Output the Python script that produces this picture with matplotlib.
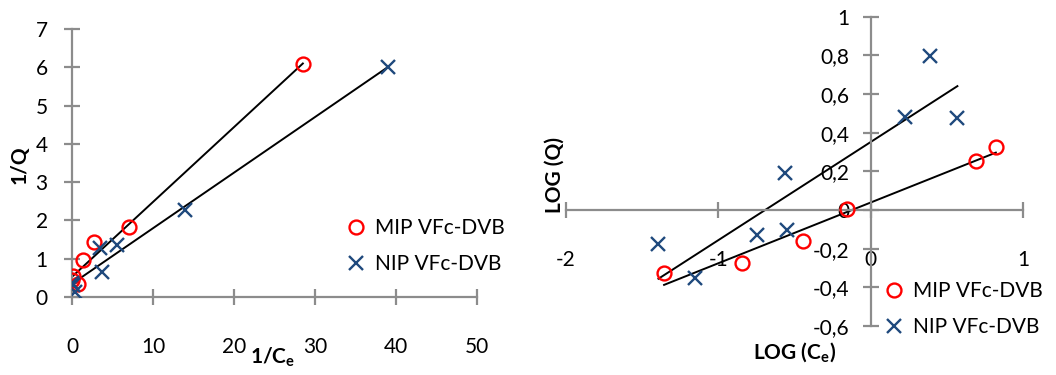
import numpy as np
import matplotlib
matplotlib.use("Agg")
import matplotlib.pyplot as plt
from matplotlib.lines import Line2D

# ---------------- data ----------------
# Left panel: Langmuir-type plot (1/Ce vs 1/Q)
mip_inv_ce = [28.5, 7.0, 2.75, 1.4, 0.17, 0.8, 0.05]
mip_inv_q = [6.08, 1.84, 1.43, 0.96, 0.55, 0.33, 0.45]
nip_inv_ce = [39.0, 14.0, 5.5, 3.46, 3.66, 0.17, 0.37, 0.05]
nip_inv_q = [6.0, 2.27, 1.36, 1.27, 0.66, 0.31, 0.14, 0.36]

# Right panel: Freundlich-type plot (log Ce vs log Q)
mip_log_ce = [-1.355, -0.846, -0.442, -0.153, 0.689, 0.820]
mip_log_q = [-0.324, -0.272, -0.159, 0.003, 0.253, 0.328]
nip_log_ce = [-1.392, -1.152, -0.748, -0.546, -0.562, 0.225, 0.389, 0.568]
nip_log_q = [-0.178, -0.353, -0.129, -0.103, 0.190, 0.479, 0.797, 0.478]

series_names = ["MIP VFc-DVB", "NIP VFc-DVB"]
left_xticks = [0, 10, 20, 30, 40, 50]
left_yticks = [0, 1, 2, 3, 4, 5, 6, 7]
right_xticks = [-2, -1, 0, 1]
right_yticks = [-0.6, -0.4, -0.2, 0, 0.2, 0.4, 0.6, 0.8, 1]
right_yticklabels = ["-0,6", "-0,4", "-0,2", "0", "0,2", "0,4", "0,6", "0,8", "1"]

# ---------------- style ----------------
FONT = "Lato"
plt.rcParams["font.family"] = [FONT, "DejaVu Sans"]
plt.rcParams["mathtext.fontset"] = "custom"
plt.rcParams["mathtext.rm"] = f"{FONT}:bold"
plt.rcParams["mathtext.it"] = f"{FONT}:bold"
plt.rcParams["mathtext.bf"] = f"{FONT}:bold"
plt.rcParams["axes.unicode_minus"] = False

RED = "#FF0000"
BLUE = "#1F497D"
GRAY = "#8C8C8C"
FS = 15

fig = plt.figure(figsize=(10.56, 3.75), dpi=100)
W, H = 1056.0, 375.0


def axes_px(x0, x1, ytop, ybot):
    return fig.add_axes([x0 / W, (H - ybot) / H, (x1 - x0) / W, (ybot - ytop) / H])


def style_axes(ax):
    for s in ["top", "right"]:
        ax.spines[s].set_visible(False)
    for s in ["left", "bottom"]:
        ax.spines[s].set_color(GRAY)
        ax.spines[s].set_linewidth(1.6)
        ax.spines[s].set_position(("data", 0))
    ax.patch.set_visible(False)
    ax.tick_params(direction="inout", length=11, width=1.6, color=GRAY,
                   labelsize=FS, labelcolor="black")


def fit_line(ax, x, y):
    x = np.asarray(x)
    y = np.asarray(y)
    k, b = np.polyfit(x, y, 1)
    xs = np.array([x.min(), x.max()])
    ax.plot(xs, k * xs + b, color="black", lw=1.4, zorder=2)


mk_o = dict(marker="o", ms=10, mfc="none", mec=RED, mew=1.7, ls="none", zorder=3)
mk_x = dict(marker="x", ms=10, mec=BLUE, mew=1.7, ls="none", zorder=3)

# ---------------- left panel ----------------
axL = axes_px(72, 477, 29, 297)
style_axes(axL)
axL.set_xlim(0, 50)
axL.set_ylim(0, 7)
fit_line(axL, mip_inv_ce, mip_inv_q)
fit_line(axL, nip_inv_ce, nip_inv_q)
axL.plot(mip_inv_ce, mip_inv_q, **mk_o)
axL.plot(nip_inv_ce, nip_inv_q, **mk_x)
axL.set_xticks(left_xticks)
axL.set_yticks(left_yticks)
axL.tick_params(axis="x", pad=23)
axL.tick_params(axis="y", pad=12)
fig.text(20 / W, 1 - 165 / H, "1/Q", rotation=90, fontsize=FS, fontweight="bold",
         ha="center", va="center")
fig.text(273 / W, 1 - 357 / H, r"1/C$_\mathrm{e}$", fontsize=FS, fontweight="bold",
         ha="center", va="center")

legL = [Line2D([], [], **mk_o), Line2D([], [], **mk_x)]
fig.legend(legL, series_names, loc="center left",
           bbox_to_anchor=(335 / W, 1 - 246 / H), frameon=False, fontsize=FS,
           handlelength=1.0, handletextpad=0.4, labelspacing=0.75, borderpad=0)

# ---------------- right panel ----------------
axR = axes_px(565.7, 1023.3, 16.7, 326)
style_axes(axR)
axR.set_xlim(-2, 1)
axR.set_ylim(-0.6, 1)
fit_line(axR, mip_log_ce, mip_log_q)
fit_line(axR, nip_log_ce, nip_log_q)
axR.plot(mip_log_ce, mip_log_q, **mk_o)
axR.plot(nip_log_ce, nip_log_q, **mk_x)
axR.set_xticks(right_xticks)
axR.set_xticklabels([str(v) for v in right_xticks])
axR.set_yticks(right_yticks)
axR.set_yticklabels(right_yticklabels)
axR.tick_params(axis="x", pad=23)
axR.tick_params(axis="y", pad=10)
fig.text(555 / W, 1 - 175 / H, "LOG (Q)", rotation=90, fontsize=FS, fontweight="bold",
         ha="center", va="center")
fig.text(795 / W, 1 - 352 / H, r"LOG (C$_\mathrm{e}$)", fontsize=FS, fontweight="bold",
         ha="center", va="center")

legR = [Line2D([], [], **mk_o), Line2D([], [], **mk_x)]
fig.legend(legR, series_names, loc="center left",
           bbox_to_anchor=(873 / W, 1 - 309 / H), frameon=False, fontsize=FS,
           handlelength=1.0, handletextpad=0.4, labelspacing=0.75, borderpad=0)

fig.savefig("out.png", dpi=100)
